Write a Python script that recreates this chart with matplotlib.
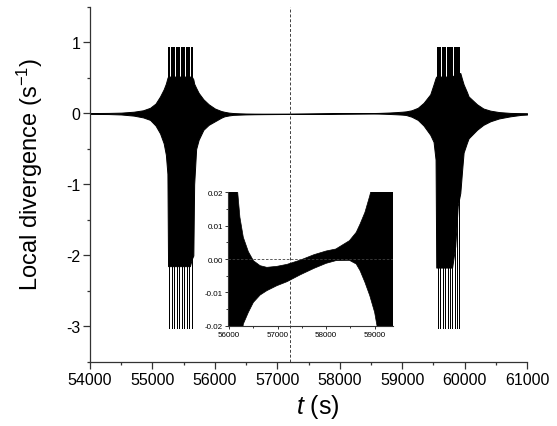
import matplotlib
matplotlib.use("Agg")
import matplotlib.pyplot as plt
from matplotlib.ticker import MultipleLocator, FormatStrFormatter

plt.rcParams["font.family"] = ["Liberation Sans", "DejaVu Sans"]
plt.rcParams["mathtext.fontset"] = "custom"
plt.rcParams["mathtext.rm"] = "Liberation Sans"
plt.rcParams["mathtext.it"] = "Liberation Sans:italic"
plt.rcParams["axes.unicode_minus"] = False

# envelope of the fast oscillation (time, upper, lower)
env_t = [54000, 54300, 54500, 54700, 54850, 54962, 55050, 55122, 55180, 55215,
         55240, 55250, 55600, 55630, 55655, 55668, 55700, 55740, 55816, 55900,
         56000, 56100, 56152, 56222, 56292, 56396, 56500, 56639, 56777, 56985,
         57194, 57472, 57750, 58000, 58200, 58480, 58620, 58700, 58800, 58900,
         59000, 59060, 59150, 59250, 59343, 59450, 59503, 59535, 59546, 59800,
         59850, 59890, 59931, 59960, 59984, 60038, 60064, 60198, 60300, 60412,
         60550, 60732, 60900, 61000]
env_hi = [0.006, 0.008, 0.012, 0.025, 0.045, 0.08, 0.14, 0.24, 0.34, 0.42,
          0.50, 0.52, 0.52, 0.52, 0.48, 0.42, 0.36, 0.29, 0.20, 0.13,
          0.07, 0.035, 0.024, 0.0125, 0.0065, 0.0022, -0.0005, -0.002, -0.0025, -0.0022,
          -0.0016, -0.0003, 0.0013, 0.0024, 0.003, 0.0055, 0.008, 0.0105, 0.014, 0.019,
          0.025, 0.03, 0.045, 0.08, 0.15, 0.27, 0.41, 0.50, 0.52, 0.52,
          0.55, 0.56, 0.57, 0.48, 0.41, 0.30, 0.24, 0.13, 0.07, 0.04,
          0.02, 0.008, 0.005, 0.004]
env_lo = [-0.006, -0.008, -0.014, -0.03, -0.055, -0.09, -0.17, -0.28, -0.42, -0.58,
          -0.85, -2.15, -2.15, -2.05, -2.0, -1.0, -0.5, -0.37, -0.23, -0.16,
          -0.11, -0.06, -0.04, -0.028, -0.0195, -0.016, -0.013, -0.0108, -0.0095, -0.008,
          -0.0068, -0.0047, -0.0028, -0.0013, -0.0005, -0.0004, -0.0015, -0.0035, -0.007, -0.011,
          -0.016, -0.021, -0.045, -0.09, -0.17, -0.30, -0.40, -0.65, -2.17, -2.17,
          -1.87, -1.3, -1.12, -0.8, -0.55, -0.41, -0.35, -0.23, -0.16, -0.11,
          -0.07, -0.04, -0.02, -0.015]

# individual clipped spikes inside the two bursts
spikes_1 = [55270, 55310, 55350, 55390, 55430, 55470, 55510, 55550, 55590, 55630]
spikes_2 = [59575, 59613, 59651, 59689, 59727, 59765, 59803, 59841, 59879, 59917]
spike_top = 0.94
spike_bot = -3.02

t_mark = 57200

fig = plt.figure(figsize=(5.57, 4.27), dpi=100)
ax = fig.add_axes([0.1616, 0.1499, 0.7846, 0.8314])

ax.fill_between(env_t, env_lo, env_hi, color="black", lw=0.7)
spikes = spikes_1 + spikes_2
ax.vlines(spikes, 0, spike_top, color="black", lw=1.1, antialiased=False)
ax.vlines(spikes, spike_bot, 0, color="black", lw=0.6, antialiased=False)
ax.axvline(t_mark, color="0.25", lw=0.7, ls=(0, (3, 2)))

ax.set_xlim(54000, 61000)
ax.set_ylim(-3.5, 1.5)
ax.xaxis.set_major_locator(MultipleLocator(1000))
ax.xaxis.set_minor_locator(MultipleLocator(500))
ax.yaxis.set_major_locator(MultipleLocator(1))
ax.yaxis.set_minor_locator(MultipleLocator(0.5))
ax.spines["top"].set_visible(False)
ax.spines["right"].set_visible(False)
for s in ("left", "bottom"):
    ax.spines[s].set_linewidth(0.9)
    ax.spines[s].set_color("0.2")
ax.tick_params(which="major", direction="out", length=5, width=0.9, labelsize=11.5, pad=2, color="0.2")
ax.tick_params(which="minor", direction="out", length=2.5, width=0.9, color="0.2")

fig.text(30 / 557, 1 - 174 / 427, "Local divergence (s$^{-1}$)", rotation=90,
         ha="center", va="center", fontsize=17)
fig.text(318 / 557, 1 - 407 / 427, r"$\mathit{t}$ (s)", ha="center", va="center", fontsize=18)

# inset: zoom of the quiet interval
axi = fig.add_axes([0.4088, 0.2349, 0.2962, 0.3124])
axi.set_facecolor("none")
axi.fill_between(env_t, env_lo, env_hi, color="black", lw=0.5)
axi.axhline(0, color="0.25", lw=0.6, ls=(0, (3, 2)), zorder=3)
axi.set_xlim(55970, 59372)
axi.set_ylim(-0.02, 0.02)
axi.xaxis.set_major_locator(MultipleLocator(1000))
axi.xaxis.set_minor_locator(MultipleLocator(500))
axi.yaxis.set_major_locator(MultipleLocator(0.01))
axi.yaxis.set_minor_locator(MultipleLocator(0.005))
axi.yaxis.set_major_formatter(FormatStrFormatter("%.2f"))
axi.spines["top"].set_visible(False)
axi.spines["right"].set_visible(False)
for s in ("left", "bottom"):
    axi.spines[s].set_linewidth(0.8)
    axi.spines[s].set_color("0.2")
axi.tick_params(which="major", direction="out", length=2.5, width=0.7, labelsize=5.8, pad=1, color="0.2")
axi.tick_params(which="minor", direction="out", length=1.3, width=0.7, color="0.2")

fig.savefig("out.png", dpi=100)
